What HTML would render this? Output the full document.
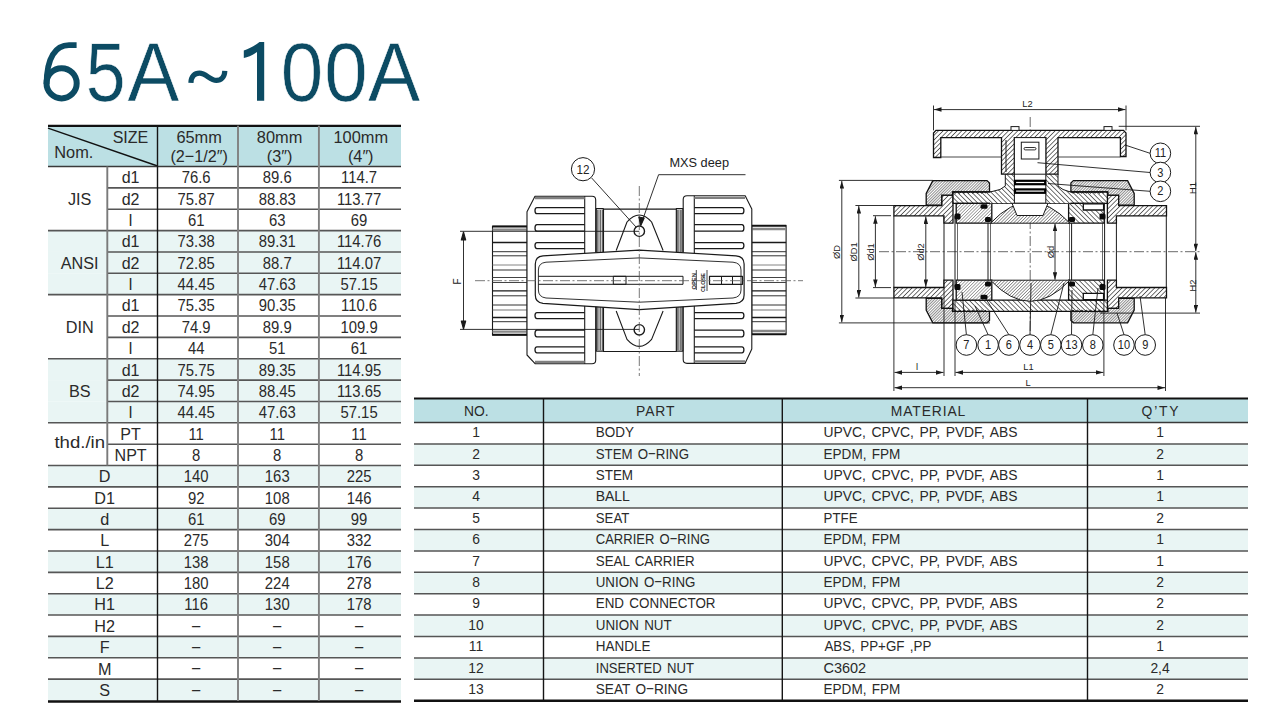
<!DOCTYPE html>
<html><head><meta charset="utf-8"><title>65A~100A</title>
<style>
html,body{margin:0;padding:0;background:#fff;width:1280px;height:720px;overflow:hidden}
svg{display:block;font-family:"Liberation Sans",sans-serif}
</style></head><body>
<svg width="1280" height="720" viewBox="0 0 1280 720">
<rect width="1280" height="720" fill="#fff"/>
<rect x="48" y="125.8" width="353" height="40.7" fill="#bce0e4"/>
<rect x="48" y="230.57999999999998" width="353" height="21.36" fill="#e9f5f4"/>
<rect x="48" y="251.94" width="353" height="21.36" fill="#e9f5f4"/>
<rect x="48" y="273.3" width="353" height="21.36" fill="#e9f5f4"/>
<rect x="48" y="358.74" width="353" height="21.36" fill="#e9f5f4"/>
<rect x="48" y="380.1" width="353" height="21.36" fill="#e9f5f4"/>
<rect x="48" y="401.46" width="353" height="21.36" fill="#e9f5f4"/>
<rect x="48" y="465.53999999999996" width="353" height="21.36" fill="#e9f5f4"/>
<rect x="48" y="508.26" width="353" height="21.36" fill="#e9f5f4"/>
<rect x="48" y="550.98" width="353" height="21.36" fill="#e9f5f4"/>
<rect x="48" y="593.7" width="353" height="21.36" fill="#e9f5f4"/>
<rect x="48" y="636.42" width="353" height="21.36" fill="#e9f5f4"/>
<rect x="48" y="679.14" width="353" height="21.36" fill="#e9f5f4"/>
<text transform="translate(85.86,100.8) scale(0.8632,1)" font-size="83.0" fill="#0c4b63" stroke="#fff" stroke-width="0.6">5</text>
<text transform="translate(127.47,100.8) scale(0.9346,1)" font-size="83.0" fill="#0c4b63" stroke="#fff" stroke-width="0.6">A</text>
<text transform="translate(280.85,100.8) scale(0.9202,1)" font-size="83.0" fill="#0c4b63" stroke="#fff" stroke-width="0.6">0</text>
<text transform="translate(324.29,100.8) scale(0.9401,1)" font-size="83.0" fill="#0c4b63" stroke="#fff" stroke-width="0.6">0</text>
<text transform="translate(368.06,100.8) scale(0.9421,1)" font-size="83.0" fill="#0c4b63" stroke="#fff" stroke-width="0.6">A</text>
<circle cx="61.6" cy="83.3" r="15.1" fill="none" stroke="#0c4b63" stroke-width="6"/>
<path d="M46.6,84 C46.6,57 56,45.1 69,45.1 L76.6,45.1" fill="none" stroke="#0c4b63" stroke-width="5.8"/>
<path d="M190.9,82.8 C191.2,76.5 194.5,73.2 199.5,73.2 C206,73.2 210,80.4 216.3,80.4 C221,80.4 224.6,77 224.8,70.8" fill="none" stroke="#0c4b63" stroke-width="5.2"/>
<path d="M264.2,42 L264.2,100.8 L257,100.8 L257,52 C252,55.5 248,57 243.8,58 L243.8,50.6 C250,48.5 255,45.5 259.5,42 Z" fill="#0c4b63"/>
<line x1="48" y1="128.2" x2="157.5" y2="166" stroke="#111" stroke-width="1.4"/>
<text transform="translate(148.3,143) scale(0.95,1)" text-anchor="end" font-size="16.9" fill="#2a2a2a" >SIZE</text>
<text transform="translate(54.2,158.3) scale(0.97,1)" text-anchor="start" font-size="16.9" fill="#2a2a2a" >Nom.</text>
<text transform="translate(199.15,143) scale(0.97,1)" text-anchor="middle" font-size="16.9" fill="#2a2a2a" >65mm</text>
<text transform="translate(199.15,161.7) scale(0.96,1)" text-anchor="middle" font-size="16.9" fill="#2a2a2a" >(2−1/2″)</text>
<text transform="translate(279.55,143) scale(0.97,1)" text-anchor="middle" font-size="16.9" fill="#2a2a2a" >80mm</text>
<text transform="translate(279.55,161.7) scale(0.96,1)" text-anchor="middle" font-size="16.9" fill="#2a2a2a" >(3″)</text>
<text transform="translate(360.75,143) scale(0.97,1)" text-anchor="middle" font-size="16.9" fill="#2a2a2a" >100mm</text>
<text transform="translate(360.75,161.7) scale(0.96,1)" text-anchor="middle" font-size="16.9" fill="#2a2a2a" >(4″)</text>
<text transform="translate(79.7,204.64) scale(0.96,1)" text-anchor="middle" font-size="16.9" fill="#2a2a2a" >JIS</text>
<text transform="translate(79.7,268.72) scale(0.96,1)" text-anchor="middle" font-size="16.9" fill="#2a2a2a" >ANSI</text>
<text transform="translate(79.7,332.8) scale(0.96,1)" text-anchor="middle" font-size="16.9" fill="#2a2a2a" >DIN</text>
<text transform="translate(79.7,396.88) scale(0.96,1)" text-anchor="middle" font-size="16.9" fill="#2a2a2a" >BS</text>
<text transform="translate(79.7,447.88) scale(1.1,1)" text-anchor="middle" font-size="16.9" fill="#2a2a2a" >thd./in</text>
<text transform="translate(104.7,482.32) scale(0.96,1)" text-anchor="middle" font-size="16.9" fill="#2a2a2a" >D</text>
<text transform="translate(104.7,503.68) scale(0.96,1)" text-anchor="middle" font-size="16.9" fill="#2a2a2a" >D1</text>
<text transform="translate(104.7,525.0400000000001) scale(0.96,1)" text-anchor="middle" font-size="16.9" fill="#2a2a2a" >d</text>
<text transform="translate(104.7,546.4) scale(0.96,1)" text-anchor="middle" font-size="16.9" fill="#2a2a2a" >L</text>
<text transform="translate(104.7,567.76) scale(0.96,1)" text-anchor="middle" font-size="16.9" fill="#2a2a2a" >L1</text>
<text transform="translate(104.7,589.12) scale(0.96,1)" text-anchor="middle" font-size="16.9" fill="#2a2a2a" >L2</text>
<text transform="translate(104.7,610.48) scale(0.96,1)" text-anchor="middle" font-size="16.9" fill="#2a2a2a" >H1</text>
<text transform="translate(104.7,631.84) scale(0.96,1)" text-anchor="middle" font-size="16.9" fill="#2a2a2a" >H2</text>
<text transform="translate(104.7,653.1999999999999) scale(0.96,1)" text-anchor="middle" font-size="16.9" fill="#2a2a2a" >F</text>
<text transform="translate(104.7,674.5600000000001) scale(0.96,1)" text-anchor="middle" font-size="16.9" fill="#2a2a2a" >M</text>
<text transform="translate(104.7,695.92) scale(0.96,1)" text-anchor="middle" font-size="16.9" fill="#2a2a2a" >S</text>
<text transform="translate(130.6,183.28) scale(0.95,1)" text-anchor="middle" font-size="16.9" fill="#2a2a2a" >d1</text>
<text transform="translate(196.15,183.28) scale(0.88,1)" text-anchor="middle" font-size="16.9" fill="#2a2a2a" >76.6</text>
<text transform="translate(277.25,183.28) scale(0.88,1)" text-anchor="middle" font-size="16.9" fill="#2a2a2a" >89.6</text>
<text transform="translate(359.05,183.28) scale(0.88,1)" text-anchor="middle" font-size="16.9" fill="#2a2a2a" >114.7</text>
<text transform="translate(130.6,204.64) scale(0.95,1)" text-anchor="middle" font-size="16.9" fill="#2a2a2a" >d2</text>
<text transform="translate(196.15,204.64) scale(0.88,1)" text-anchor="middle" font-size="16.9" fill="#2a2a2a" >75.87</text>
<text transform="translate(277.25,204.64) scale(0.88,1)" text-anchor="middle" font-size="16.9" fill="#2a2a2a" >88.83</text>
<text transform="translate(359.05,204.64) scale(0.88,1)" text-anchor="middle" font-size="16.9" fill="#2a2a2a" >113.77</text>
<text transform="translate(130.6,226.0) scale(0.95,1)" text-anchor="middle" font-size="16.9" fill="#2a2a2a" >l</text>
<text transform="translate(196.15,226.0) scale(0.88,1)" text-anchor="middle" font-size="16.9" fill="#2a2a2a" >61</text>
<text transform="translate(277.25,226.0) scale(0.88,1)" text-anchor="middle" font-size="16.9" fill="#2a2a2a" >63</text>
<text transform="translate(359.05,226.0) scale(0.88,1)" text-anchor="middle" font-size="16.9" fill="#2a2a2a" >69</text>
<text transform="translate(130.6,247.35999999999999) scale(0.95,1)" text-anchor="middle" font-size="16.9" fill="#2a2a2a" >d1</text>
<text transform="translate(196.15,247.35999999999999) scale(0.88,1)" text-anchor="middle" font-size="16.9" fill="#2a2a2a" >73.38</text>
<text transform="translate(277.25,247.35999999999999) scale(0.88,1)" text-anchor="middle" font-size="16.9" fill="#2a2a2a" >89.31</text>
<text transform="translate(359.05,247.35999999999999) scale(0.88,1)" text-anchor="middle" font-size="16.9" fill="#2a2a2a" >114.76</text>
<text transform="translate(130.6,268.72) scale(0.95,1)" text-anchor="middle" font-size="16.9" fill="#2a2a2a" >d2</text>
<text transform="translate(196.15,268.72) scale(0.88,1)" text-anchor="middle" font-size="16.9" fill="#2a2a2a" >72.85</text>
<text transform="translate(277.25,268.72) scale(0.88,1)" text-anchor="middle" font-size="16.9" fill="#2a2a2a" >88.7</text>
<text transform="translate(359.05,268.72) scale(0.88,1)" text-anchor="middle" font-size="16.9" fill="#2a2a2a" >114.07</text>
<text transform="translate(130.6,290.08000000000004) scale(0.95,1)" text-anchor="middle" font-size="16.9" fill="#2a2a2a" >l</text>
<text transform="translate(196.15,290.08000000000004) scale(0.88,1)" text-anchor="middle" font-size="16.9" fill="#2a2a2a" >44.45</text>
<text transform="translate(277.25,290.08000000000004) scale(0.88,1)" text-anchor="middle" font-size="16.9" fill="#2a2a2a" >47.63</text>
<text transform="translate(359.05,290.08000000000004) scale(0.88,1)" text-anchor="middle" font-size="16.9" fill="#2a2a2a" >57.15</text>
<text transform="translate(130.6,311.44000000000005) scale(0.95,1)" text-anchor="middle" font-size="16.9" fill="#2a2a2a" >d1</text>
<text transform="translate(196.15,311.44000000000005) scale(0.88,1)" text-anchor="middle" font-size="16.9" fill="#2a2a2a" >75.35</text>
<text transform="translate(277.25,311.44000000000005) scale(0.88,1)" text-anchor="middle" font-size="16.9" fill="#2a2a2a" >90.35</text>
<text transform="translate(359.05,311.44000000000005) scale(0.88,1)" text-anchor="middle" font-size="16.9" fill="#2a2a2a" >110.6</text>
<text transform="translate(130.6,332.8) scale(0.95,1)" text-anchor="middle" font-size="16.9" fill="#2a2a2a" >d2</text>
<text transform="translate(196.15,332.8) scale(0.88,1)" text-anchor="middle" font-size="16.9" fill="#2a2a2a" >74.9</text>
<text transform="translate(277.25,332.8) scale(0.88,1)" text-anchor="middle" font-size="16.9" fill="#2a2a2a" >89.9</text>
<text transform="translate(359.05,332.8) scale(0.88,1)" text-anchor="middle" font-size="16.9" fill="#2a2a2a" >109.9</text>
<text transform="translate(130.6,354.16) scale(0.95,1)" text-anchor="middle" font-size="16.9" fill="#2a2a2a" >l</text>
<text transform="translate(196.15,354.16) scale(0.88,1)" text-anchor="middle" font-size="16.9" fill="#2a2a2a" >44</text>
<text transform="translate(277.25,354.16) scale(0.88,1)" text-anchor="middle" font-size="16.9" fill="#2a2a2a" >51</text>
<text transform="translate(359.05,354.16) scale(0.88,1)" text-anchor="middle" font-size="16.9" fill="#2a2a2a" >61</text>
<text transform="translate(130.6,375.52) scale(0.95,1)" text-anchor="middle" font-size="16.9" fill="#2a2a2a" >d1</text>
<text transform="translate(196.15,375.52) scale(0.88,1)" text-anchor="middle" font-size="16.9" fill="#2a2a2a" >75.75</text>
<text transform="translate(277.25,375.52) scale(0.88,1)" text-anchor="middle" font-size="16.9" fill="#2a2a2a" >89.35</text>
<text transform="translate(359.05,375.52) scale(0.88,1)" text-anchor="middle" font-size="16.9" fill="#2a2a2a" >114.95</text>
<text transform="translate(130.6,396.88) scale(0.95,1)" text-anchor="middle" font-size="16.9" fill="#2a2a2a" >d2</text>
<text transform="translate(196.15,396.88) scale(0.88,1)" text-anchor="middle" font-size="16.9" fill="#2a2a2a" >74.95</text>
<text transform="translate(277.25,396.88) scale(0.88,1)" text-anchor="middle" font-size="16.9" fill="#2a2a2a" >88.45</text>
<text transform="translate(359.05,396.88) scale(0.88,1)" text-anchor="middle" font-size="16.9" fill="#2a2a2a" >113.65</text>
<text transform="translate(130.6,418.24) scale(0.95,1)" text-anchor="middle" font-size="16.9" fill="#2a2a2a" >l</text>
<text transform="translate(196.15,418.24) scale(0.88,1)" text-anchor="middle" font-size="16.9" fill="#2a2a2a" >44.45</text>
<text transform="translate(277.25,418.24) scale(0.88,1)" text-anchor="middle" font-size="16.9" fill="#2a2a2a" >47.63</text>
<text transform="translate(359.05,418.24) scale(0.88,1)" text-anchor="middle" font-size="16.9" fill="#2a2a2a" >57.15</text>
<text transform="translate(130.6,439.6) scale(0.95,1)" text-anchor="middle" font-size="16.9" fill="#2a2a2a" >PT</text>
<text transform="translate(196.15,439.6) scale(0.88,1)" text-anchor="middle" font-size="16.9" fill="#2a2a2a" >11</text>
<text transform="translate(277.25,439.6) scale(0.88,1)" text-anchor="middle" font-size="16.9" fill="#2a2a2a" >11</text>
<text transform="translate(359.05,439.6) scale(0.88,1)" text-anchor="middle" font-size="16.9" fill="#2a2a2a" >11</text>
<text transform="translate(130.6,460.96000000000004) scale(0.95,1)" text-anchor="middle" font-size="16.9" fill="#2a2a2a" >NPT</text>
<text transform="translate(196.15,460.96000000000004) scale(0.88,1)" text-anchor="middle" font-size="16.9" fill="#2a2a2a" >8</text>
<text transform="translate(277.25,460.96000000000004) scale(0.88,1)" text-anchor="middle" font-size="16.9" fill="#2a2a2a" >8</text>
<text transform="translate(359.05,460.96000000000004) scale(0.88,1)" text-anchor="middle" font-size="16.9" fill="#2a2a2a" >8</text>
<text transform="translate(196.15,482.32) scale(0.88,1)" text-anchor="middle" font-size="16.9" fill="#2a2a2a" >140</text>
<text transform="translate(277.25,482.32) scale(0.88,1)" text-anchor="middle" font-size="16.9" fill="#2a2a2a" >163</text>
<text transform="translate(359.05,482.32) scale(0.88,1)" text-anchor="middle" font-size="16.9" fill="#2a2a2a" >225</text>
<text transform="translate(196.15,503.68) scale(0.88,1)" text-anchor="middle" font-size="16.9" fill="#2a2a2a" >92</text>
<text transform="translate(277.25,503.68) scale(0.88,1)" text-anchor="middle" font-size="16.9" fill="#2a2a2a" >108</text>
<text transform="translate(359.05,503.68) scale(0.88,1)" text-anchor="middle" font-size="16.9" fill="#2a2a2a" >146</text>
<text transform="translate(196.15,525.0400000000001) scale(0.88,1)" text-anchor="middle" font-size="16.9" fill="#2a2a2a" >61</text>
<text transform="translate(277.25,525.0400000000001) scale(0.88,1)" text-anchor="middle" font-size="16.9" fill="#2a2a2a" >69</text>
<text transform="translate(359.05,525.0400000000001) scale(0.88,1)" text-anchor="middle" font-size="16.9" fill="#2a2a2a" >99</text>
<text transform="translate(196.15,546.4) scale(0.88,1)" text-anchor="middle" font-size="16.9" fill="#2a2a2a" >275</text>
<text transform="translate(277.25,546.4) scale(0.88,1)" text-anchor="middle" font-size="16.9" fill="#2a2a2a" >304</text>
<text transform="translate(359.05,546.4) scale(0.88,1)" text-anchor="middle" font-size="16.9" fill="#2a2a2a" >332</text>
<text transform="translate(196.15,567.76) scale(0.88,1)" text-anchor="middle" font-size="16.9" fill="#2a2a2a" >138</text>
<text transform="translate(277.25,567.76) scale(0.88,1)" text-anchor="middle" font-size="16.9" fill="#2a2a2a" >158</text>
<text transform="translate(359.05,567.76) scale(0.88,1)" text-anchor="middle" font-size="16.9" fill="#2a2a2a" >176</text>
<text transform="translate(196.15,589.12) scale(0.88,1)" text-anchor="middle" font-size="16.9" fill="#2a2a2a" >180</text>
<text transform="translate(277.25,589.12) scale(0.88,1)" text-anchor="middle" font-size="16.9" fill="#2a2a2a" >224</text>
<text transform="translate(359.05,589.12) scale(0.88,1)" text-anchor="middle" font-size="16.9" fill="#2a2a2a" >278</text>
<text transform="translate(196.15,610.48) scale(0.88,1)" text-anchor="middle" font-size="16.9" fill="#2a2a2a" >116</text>
<text transform="translate(277.25,610.48) scale(0.88,1)" text-anchor="middle" font-size="16.9" fill="#2a2a2a" >130</text>
<text transform="translate(359.05,610.48) scale(0.88,1)" text-anchor="middle" font-size="16.9" fill="#2a2a2a" >178</text>
<text transform="translate(196.15,630.5400000000001) scale(0.88,1)" text-anchor="middle" font-size="16.9" fill="#2a2a2a" >–</text>
<text transform="translate(277.25,630.5400000000001) scale(0.88,1)" text-anchor="middle" font-size="16.9" fill="#2a2a2a" >–</text>
<text transform="translate(359.05,630.5400000000001) scale(0.88,1)" text-anchor="middle" font-size="16.9" fill="#2a2a2a" >–</text>
<text transform="translate(196.15,651.9) scale(0.88,1)" text-anchor="middle" font-size="16.9" fill="#2a2a2a" >–</text>
<text transform="translate(277.25,651.9) scale(0.88,1)" text-anchor="middle" font-size="16.9" fill="#2a2a2a" >–</text>
<text transform="translate(359.05,651.9) scale(0.88,1)" text-anchor="middle" font-size="16.9" fill="#2a2a2a" >–</text>
<text transform="translate(196.15,673.2600000000001) scale(0.88,1)" text-anchor="middle" font-size="16.9" fill="#2a2a2a" >–</text>
<text transform="translate(277.25,673.2600000000001) scale(0.88,1)" text-anchor="middle" font-size="16.9" fill="#2a2a2a" >–</text>
<text transform="translate(359.05,673.2600000000001) scale(0.88,1)" text-anchor="middle" font-size="16.9" fill="#2a2a2a" >–</text>
<text transform="translate(196.15,694.62) scale(0.88,1)" text-anchor="middle" font-size="16.9" fill="#2a2a2a" >–</text>
<text transform="translate(277.25,694.62) scale(0.88,1)" text-anchor="middle" font-size="16.9" fill="#2a2a2a" >–</text>
<text transform="translate(359.05,694.62) scale(0.88,1)" text-anchor="middle" font-size="16.9" fill="#2a2a2a" >–</text>
<line x1="48" y1="125.8" x2="401" y2="125.8" stroke="#111" stroke-width="2.2"/>
<line x1="48" y1="166.5" x2="401" y2="166.5" stroke="#3a3a3a" stroke-width="1.3"/>
<line x1="107.3" y1="187.86" x2="401" y2="187.86" stroke="#565656" stroke-width="1.6"/>
<line x1="107.3" y1="209.22" x2="401" y2="209.22" stroke="#565656" stroke-width="1.6"/>
<line x1="48" y1="230.57999999999998" x2="401" y2="230.57999999999998" stroke="#565656" stroke-width="1.6"/>
<line x1="107.3" y1="251.94" x2="401" y2="251.94" stroke="#565656" stroke-width="1.6"/>
<line x1="107.3" y1="273.3" x2="401" y2="273.3" stroke="#565656" stroke-width="1.6"/>
<line x1="48" y1="294.65999999999997" x2="401" y2="294.65999999999997" stroke="#565656" stroke-width="1.6"/>
<line x1="107.3" y1="316.02" x2="401" y2="316.02" stroke="#565656" stroke-width="1.6"/>
<line x1="107.3" y1="337.38" x2="401" y2="337.38" stroke="#565656" stroke-width="1.6"/>
<line x1="48" y1="358.74" x2="401" y2="358.74" stroke="#565656" stroke-width="1.6"/>
<line x1="107.3" y1="380.1" x2="401" y2="380.1" stroke="#565656" stroke-width="1.6"/>
<line x1="107.3" y1="401.46" x2="401" y2="401.46" stroke="#565656" stroke-width="1.6"/>
<line x1="48" y1="422.82" x2="401" y2="422.82" stroke="#565656" stroke-width="1.6"/>
<line x1="107.3" y1="444.18" x2="401" y2="444.18" stroke="#565656" stroke-width="1.6"/>
<line x1="48" y1="465.53999999999996" x2="401" y2="465.53999999999996" stroke="#565656" stroke-width="1.6"/>
<line x1="48" y1="486.9" x2="401" y2="486.9" stroke="#565656" stroke-width="1.6"/>
<line x1="48" y1="508.26" x2="401" y2="508.26" stroke="#565656" stroke-width="1.6"/>
<line x1="48" y1="529.62" x2="401" y2="529.62" stroke="#565656" stroke-width="1.6"/>
<line x1="48" y1="550.98" x2="401" y2="550.98" stroke="#565656" stroke-width="1.6"/>
<line x1="48" y1="572.3399999999999" x2="401" y2="572.3399999999999" stroke="#565656" stroke-width="1.6"/>
<line x1="48" y1="593.7" x2="401" y2="593.7" stroke="#565656" stroke-width="1.6"/>
<line x1="48" y1="615.06" x2="401" y2="615.06" stroke="#565656" stroke-width="1.6"/>
<line x1="48" y1="636.42" x2="401" y2="636.42" stroke="#565656" stroke-width="1.6"/>
<line x1="48" y1="657.78" x2="401" y2="657.78" stroke="#565656" stroke-width="1.6"/>
<line x1="48" y1="679.14" x2="401" y2="679.14" stroke="#565656" stroke-width="1.6"/>
<line x1="48" y1="701.5" x2="401" y2="701.5" stroke="#111" stroke-width="2.4"/>
<line x1="107.3" y1="166.5" x2="107.3" y2="465.53999999999996" stroke="#7a7a7a" stroke-width="1.9"/>
<line x1="157.5" y1="125.8" x2="157.5" y2="701" stroke="#151515" stroke-width="1.4"/>
<line x1="238" y1="125.8" x2="238" y2="701" stroke="#808080" stroke-width="1.9"/>
<line x1="318.9" y1="125.8" x2="318.9" y2="701" stroke="#808080" stroke-width="1.9"/>
<rect x="414" y="398.5" width="834" height="24.0" fill="#bce0e4"/>
<rect x="414" y="443.9" width="834" height="21.400000000000002" fill="#e9f5f4"/>
<rect x="414" y="486.7" width="834" height="21.400000000000002" fill="#e9f5f4"/>
<rect x="414" y="529.5" width="834" height="21.400000000000002" fill="#e9f5f4"/>
<rect x="414" y="572.3" width="834" height="21.400000000000002" fill="#e9f5f4"/>
<rect x="414" y="615.1" width="834" height="21.400000000000002" fill="#e9f5f4"/>
<rect x="414" y="657.9000000000001" width="834" height="21.400000000000002" fill="#e9f5f4"/>
<text transform="translate(476.2,416.2) scale(0.9,1)" text-anchor="middle" font-size="15.4" fill="#2a2a2a" >NO.</text>
<text transform="translate(655.7,416.2) scale(0.9,1)" text-anchor="middle" font-size="15.4" fill="#2a2a2a" letter-spacing="1">PART</text>
<text transform="translate(928.5,416.2) scale(0.9,1)" text-anchor="middle" font-size="15.4" fill="#2a2a2a" letter-spacing="1">MATERIAL</text>
<text transform="translate(1161,416.2) scale(0.9,1)" text-anchor="middle" font-size="15.4" fill="#2a2a2a" letter-spacing="2">Q’TY</text>
<text transform="translate(476,437.09999999999997) scale(0.9,1)" text-anchor="middle" font-size="15.4" fill="#2a2a2a" >1</text>
<text transform="translate(595.7238095238096,437.09999999999997) scale(0.8762,1)" text-anchor="start" font-size="15.4" fill="#2a2a2a" >BODY</text>
<text transform="translate(823.5,437.09999999999997) scale(0.9,1)" text-anchor="start" font-size="15.4" fill="#2a2a2a" word-spacing="2.00">UPVC, CPVC, PP, PVDF, ABS</text>
<text transform="translate(1160,437.09999999999997) scale(0.9,1)" text-anchor="middle" font-size="15.4" fill="#2a2a2a" >1</text>
<text transform="translate(476,458.5) scale(0.9,1)" text-anchor="middle" font-size="15.4" fill="#2a2a2a" >2</text>
<text transform="translate(595.7379962192817,458.5) scale(0.862,1)" text-anchor="start" font-size="15.4" fill="#2a2a2a" word-spacing="1.80">STEM O−RING</text>
<text transform="translate(823.5191037735849,458.5) scale(0.8809,1)" text-anchor="start" font-size="15.4" fill="#2a2a2a" word-spacing="1.80">EPDM, FPM</text>
<text transform="translate(1160,458.5) scale(0.9,1)" text-anchor="middle" font-size="15.4" fill="#2a2a2a" >2</text>
<text transform="translate(476,479.9) scale(0.9,1)" text-anchor="middle" font-size="15.4" fill="#2a2a2a" >3</text>
<text transform="translate(595.7268292682927,479.9) scale(0.8732,1)" text-anchor="start" font-size="15.4" fill="#2a2a2a" >STEM</text>
<text transform="translate(823.5,479.9) scale(0.9,1)" text-anchor="start" font-size="15.4" fill="#2a2a2a" word-spacing="2.00">UPVC, CPVC, PP, PVDF, ABS</text>
<text transform="translate(1160,479.9) scale(0.9,1)" text-anchor="middle" font-size="15.4" fill="#2a2a2a" >1</text>
<text transform="translate(476,501.29999999999995) scale(0.9,1)" text-anchor="middle" font-size="15.4" fill="#2a2a2a" >4</text>
<text transform="translate(595.6916666666667,501.29999999999995) scale(0.9083,1)" text-anchor="start" font-size="15.4" fill="#2a2a2a" >BALL</text>
<text transform="translate(823.5,501.29999999999995) scale(0.9,1)" text-anchor="start" font-size="15.4" fill="#2a2a2a" word-spacing="2.00">UPVC, CPVC, PP, PVDF, ABS</text>
<text transform="translate(1160,501.29999999999995) scale(0.9,1)" text-anchor="middle" font-size="15.4" fill="#2a2a2a" >1</text>
<text transform="translate(476,522.6999999999999) scale(0.9,1)" text-anchor="middle" font-size="15.4" fill="#2a2a2a" >5</text>
<text transform="translate(595.7394736842106,522.6999999999999) scale(0.8605,1)" text-anchor="start" font-size="15.4" fill="#2a2a2a" >SEAT</text>
<text transform="translate(823.5368421052632,522.6999999999999) scale(0.8632,1)" text-anchor="start" font-size="15.4" fill="#2a2a2a" >PTFE</text>
<text transform="translate(1160,522.6999999999999) scale(0.9,1)" text-anchor="middle" font-size="15.4" fill="#2a2a2a" >2</text>
<text transform="translate(476,544.1) scale(0.9,1)" text-anchor="middle" font-size="15.4" fill="#2a2a2a" >6</text>
<text transform="translate(595.7528614457832,544.1) scale(0.8471,1)" text-anchor="start" font-size="15.4" fill="#2a2a2a" word-spacing="1.80">CARRIER O−RING</text>
<text transform="translate(823.5191037735849,544.1) scale(0.8809,1)" text-anchor="start" font-size="15.4" fill="#2a2a2a" word-spacing="1.80">EPDM, FPM</text>
<text transform="translate(1160,544.1) scale(0.9,1)" text-anchor="middle" font-size="15.4" fill="#2a2a2a" >1</text>
<text transform="translate(476,565.5) scale(0.9,1)" text-anchor="middle" font-size="15.4" fill="#2a2a2a" >7</text>
<text transform="translate(595.7323792486584,565.5) scale(0.8676,1)" text-anchor="start" font-size="15.4" fill="#2a2a2a" word-spacing="1.80">SEAL CARRIER</text>
<text transform="translate(823.5,565.5) scale(0.9,1)" text-anchor="start" font-size="15.4" fill="#2a2a2a" word-spacing="2.00">UPVC, CPVC, PP, PVDF, ABS</text>
<text transform="translate(1160,565.5) scale(0.9,1)" text-anchor="middle" font-size="15.4" fill="#2a2a2a" >1</text>
<text transform="translate(476,586.9) scale(0.9,1)" text-anchor="middle" font-size="15.4" fill="#2a2a2a" >8</text>
<text transform="translate(595.733865248227,586.9) scale(0.8661,1)" text-anchor="start" font-size="15.4" fill="#2a2a2a" word-spacing="1.80">UNION O−RING</text>
<text transform="translate(823.5191037735849,586.9) scale(0.8809,1)" text-anchor="start" font-size="15.4" fill="#2a2a2a" word-spacing="1.80">EPDM, FPM</text>
<text transform="translate(1160,586.9) scale(0.9,1)" text-anchor="middle" font-size="15.4" fill="#2a2a2a" >2</text>
<text transform="translate(476,608.3) scale(0.9,1)" text-anchor="middle" font-size="15.4" fill="#2a2a2a" >9</text>
<text transform="translate(595.7288659793815,608.3) scale(0.8711,1)" text-anchor="start" font-size="15.4" fill="#2a2a2a" word-spacing="1.80">END CONNECTOR</text>
<text transform="translate(823.5,608.3) scale(0.9,1)" text-anchor="start" font-size="15.4" fill="#2a2a2a" word-spacing="2.00">UPVC, CPVC, PP, PVDF, ABS</text>
<text transform="translate(1160,608.3) scale(0.9,1)" text-anchor="middle" font-size="15.4" fill="#2a2a2a" >2</text>
<text transform="translate(476,629.6999999999999) scale(0.9,1)" text-anchor="middle" font-size="15.4" fill="#2a2a2a" >10</text>
<text transform="translate(595.7293706293707,629.6999999999999) scale(0.8706,1)" text-anchor="start" font-size="15.4" fill="#2a2a2a" word-spacing="1.80">UNION NUT</text>
<text transform="translate(823.5,629.6999999999999) scale(0.9,1)" text-anchor="start" font-size="15.4" fill="#2a2a2a" word-spacing="2.00">UPVC, CPVC, PP, PVDF, ABS</text>
<text transform="translate(1160,629.6999999999999) scale(0.9,1)" text-anchor="middle" font-size="15.4" fill="#2a2a2a" >2</text>
<text transform="translate(476,651.1) scale(0.9,1)" text-anchor="middle" font-size="15.4" fill="#2a2a2a" >11</text>
<text transform="translate(595.7245901639344,651.1) scale(0.8754,1)" text-anchor="start" font-size="15.4" fill="#2a2a2a" >HANDLE</text>
<text transform="translate(824.4,651.1) scale(0.8703,1)" text-anchor="start" font-size="15.4" fill="#2a2a2a" word-spacing="1.80">ABS, PP+GF ,PP</text>
<text transform="translate(1160,651.1) scale(0.9,1)" text-anchor="middle" font-size="15.4" fill="#2a2a2a" >1</text>
<text transform="translate(476,672.5) scale(0.9,1)" text-anchor="middle" font-size="15.4" fill="#2a2a2a" >12</text>
<text transform="translate(595.7476274165202,672.5) scale(0.8524,1)" text-anchor="start" font-size="15.4" fill="#2a2a2a" word-spacing="1.80">INSERTED NUT</text>
<text transform="translate(823.4590909090908,672.5) scale(0.9409,1)" text-anchor="start" font-size="15.4" fill="#2a2a2a" >C3602</text>
<text transform="translate(1160,672.5) scale(0.9,1)" text-anchor="middle" font-size="15.4" fill="#2a2a2a" >2,4</text>
<text transform="translate(476,693.9) scale(0.9,1)" text-anchor="middle" font-size="15.4" fill="#2a2a2a" >13</text>
<text transform="translate(595.7149312377211,693.9) scale(0.8851,1)" text-anchor="start" font-size="15.4" fill="#2a2a2a" word-spacing="1.80">SEAT O−RING</text>
<text transform="translate(823.5191037735849,693.9) scale(0.8809,1)" text-anchor="start" font-size="15.4" fill="#2a2a2a" word-spacing="1.80">EPDM, FPM</text>
<text transform="translate(1160,693.9) scale(0.9,1)" text-anchor="middle" font-size="15.4" fill="#2a2a2a" >2</text>
<line x1="414" y1="398.5" x2="1248" y2="398.5" stroke="#111" stroke-width="2"/>
<line x1="414" y1="422.5" x2="1248" y2="422.5" stroke="#3a3a3a" stroke-width="1.3"/>
<line x1="414" y1="443.9" x2="1248" y2="443.9" stroke="#555" stroke-width="1.5"/>
<line x1="414" y1="465.3" x2="1248" y2="465.3" stroke="#555" stroke-width="1.5"/>
<line x1="414" y1="486.7" x2="1248" y2="486.7" stroke="#555" stroke-width="1.5"/>
<line x1="414" y1="508.1" x2="1248" y2="508.1" stroke="#555" stroke-width="1.5"/>
<line x1="414" y1="529.5" x2="1248" y2="529.5" stroke="#555" stroke-width="1.5"/>
<line x1="414" y1="550.9" x2="1248" y2="550.9" stroke="#555" stroke-width="1.5"/>
<line x1="414" y1="572.3" x2="1248" y2="572.3" stroke="#555" stroke-width="1.5"/>
<line x1="414" y1="593.7" x2="1248" y2="593.7" stroke="#555" stroke-width="1.5"/>
<line x1="414" y1="615.1" x2="1248" y2="615.1" stroke="#555" stroke-width="1.5"/>
<line x1="414" y1="636.5" x2="1248" y2="636.5" stroke="#555" stroke-width="1.5"/>
<line x1="414" y1="657.9000000000001" x2="1248" y2="657.9000000000001" stroke="#555" stroke-width="1.5"/>
<line x1="414" y1="679.3" x2="1248" y2="679.3" stroke="#555" stroke-width="1.5"/>
<line x1="414" y1="700.7" x2="1248" y2="700.7" stroke="#111" stroke-width="2.4"/>
<line x1="543.5" y1="398.5" x2="543.5" y2="700.7" stroke="#151515" stroke-width="1.4"/>
<line x1="782.3" y1="398.5" x2="782.3" y2="700.7" stroke="#151515" stroke-width="1.4"/>
<line x1="1087.5" y1="398.5" x2="1087.5" y2="700.7" stroke="#151515" stroke-width="1.4"/>
<g fill="none" stroke="#1a1a1a" stroke-width="1.1" stroke-linejoin="round">
<rect x="492.5" y="226" width="34.7" height="109.2" fill="#fff"/>
<line x1="492.5" y1="226.6" x2="527.2" y2="226.6" stroke-width="1.6" stroke="#111"/>
<line x1="492.5" y1="229.6" x2="527.2" y2="229.6" stroke-width="2.4" stroke="#888"/>
<line x1="492.5" y1="334.59999999999997" x2="527.2" y2="334.59999999999997" stroke-width="1.6" stroke="#111"/>
<line x1="492.5" y1="331.59999999999997" x2="527.2" y2="331.59999999999997" stroke-width="2.4" stroke="#888"/>
<line x1="492.5" y1="242.5" x2="527.2" y2="242.5" stroke-width="1.3" stroke="#1a1a1a"/>
<line x1="492.5" y1="251.7" x2="527.2" y2="251.7" stroke-width="1" stroke="#333"/>
<line x1="492.5" y1="255.8" x2="527.2" y2="255.8" stroke-width="1" stroke="#333"/>
<line x1="492.5" y1="265" x2="527.2" y2="265" stroke-width="0.9" stroke="#777"/>
<line x1="492.5" y1="270" x2="527.2" y2="270" stroke-width="1" stroke="#333"/>
<line x1="492.5" y1="277.5" x2="527.2" y2="277.5" stroke-width="1" stroke="#444"/>
<line x1="492.5" y1="282.5" x2="527.2" y2="282.5" stroke-width="1" stroke="#444"/>
<line x1="492.5" y1="290.8" x2="527.2" y2="290.8" stroke-width="1.3" stroke="#1a1a1a"/>
<line x1="492.5" y1="295.8" x2="527.2" y2="295.8" stroke-width="1" stroke="#333"/>
<line x1="492.5" y1="305" x2="527.2" y2="305" stroke-width="1" stroke="#333"/>
<line x1="492.5" y1="310" x2="527.2" y2="310" stroke-width="0.9" stroke="#666"/>
<line x1="492.5" y1="317.5" x2="527.2" y2="317.5" stroke-width="1.3" stroke="#1a1a1a"/>
<line x1="492.5" y1="321.7" x2="527.2" y2="321.7" stroke-width="1" stroke="#333"/>
<rect x="751.8" y="225.4" width="34.3" height="109.2" fill="#fff"/>
<line x1="751.8" y1="226.0" x2="786.1" y2="226.0" stroke-width="1.6" stroke="#111"/>
<line x1="751.8" y1="229.0" x2="786.1" y2="229.0" stroke-width="2.4" stroke="#888"/>
<line x1="751.8" y1="334.0" x2="786.1" y2="334.0" stroke-width="1.6" stroke="#111"/>
<line x1="751.8" y1="331.0" x2="786.1" y2="331.0" stroke-width="2.4" stroke="#888"/>
<line x1="751.8" y1="242.5" x2="786.1" y2="242.5" stroke-width="1.3" stroke="#1a1a1a"/>
<line x1="751.8" y1="251.7" x2="786.1" y2="251.7" stroke-width="1" stroke="#333"/>
<line x1="751.8" y1="255.8" x2="786.1" y2="255.8" stroke-width="1" stroke="#333"/>
<line x1="751.8" y1="265" x2="786.1" y2="265" stroke-width="0.9" stroke="#777"/>
<line x1="751.8" y1="270" x2="786.1" y2="270" stroke-width="1" stroke="#333"/>
<line x1="751.8" y1="277.5" x2="786.1" y2="277.5" stroke-width="1" stroke="#444"/>
<line x1="751.8" y1="282.5" x2="786.1" y2="282.5" stroke-width="1" stroke="#444"/>
<line x1="751.8" y1="290.8" x2="786.1" y2="290.8" stroke-width="1.3" stroke="#1a1a1a"/>
<line x1="751.8" y1="295.8" x2="786.1" y2="295.8" stroke-width="1" stroke="#333"/>
<line x1="751.8" y1="305" x2="786.1" y2="305" stroke-width="1" stroke="#333"/>
<line x1="751.8" y1="310" x2="786.1" y2="310" stroke-width="0.9" stroke="#666"/>
<line x1="751.8" y1="317.5" x2="786.1" y2="317.5" stroke-width="1.3" stroke="#1a1a1a"/>
<line x1="751.8" y1="321.7" x2="786.1" y2="321.7" stroke-width="1" stroke="#333"/>
<path d="M535,196.3 L592,196.3 Q595.7,196.3 595.7,200 L595.7,360 Q595.7,363.8 592,363.8 L535.3,363.8 L527,355 L527,211.7 Z" fill="#fff"/>
<line x1="584.7" y1="196.3" x2="584.7" y2="363.8"/>
<line x1="535" y1="198.2" x2="584.7" y2="198.2" stroke-width="2.2" stroke="#808080"/>
<line x1="535" y1="361.9" x2="584.7" y2="361.9" stroke-width="2.2" stroke="#808080"/>
<path d="M687,195.8 L745.2,195.8 L751.8,209 L751.8,349 L745,363.4 L687,363.4 Q683.2,363.4 683.2,359.6 L683.2,199.6 Q683.2,195.8 687,195.8 Z" fill="#fff"/>
<line x1="694.3" y1="195.8" x2="694.3" y2="363.4"/>
<line x1="694.3" y1="197.8" x2="745" y2="197.8" stroke-width="2.2" stroke="#808080"/>
<line x1="694.3" y1="361.4" x2="745" y2="361.4" stroke-width="2.2" stroke="#808080"/>
<path d="M584.7,207.7 L537,207.7 Q535,207.7 535,210.64999999999998 Q535,213.6 537,213.6 L584.7,213.6" stroke-width="1.3"/>
<path d="M584.7,224.6 L537,224.6 Q535,224.6 535,227.89999999999998 Q535,231.2 537,231.2 L584.7,231.2" stroke-width="1.3"/>
<path d="M584.7,242.6 L537,242.6 Q535,242.6 535,245.6 Q535,248.6 537,248.6 L584.7,248.6" stroke-width="1.3"/>
<path d="M584.7,312.6 L537,312.6 Q535,312.6 535,315.6 Q535,318.6 537,318.6 L584.7,318.6" stroke-width="1.3"/>
<path d="M584.7,330.2 L537,330.2 Q535,330.2 535,333.5 Q535,336.8 537,336.8 L584.7,336.8" stroke-width="1.3"/>
<path d="M584.7,346.8 L537,346.8 Q535,346.8 535,349.8 Q535,352.8 537,352.8 L584.7,352.8" stroke-width="1.3"/>
<path d="M694.3,207.7 L741.9,207.7 Q743.9,207.7 743.9,210.64999999999998 Q743.9,213.6 741.9,213.6 L694.3,213.6" stroke-width="1.3"/>
<path d="M694.3,224.6 L741.9,224.6 Q743.9,224.6 743.9,227.89999999999998 Q743.9,231.2 741.9,231.2 L694.3,231.2" stroke-width="1.3"/>
<path d="M694.3,242.6 L741.9,242.6 Q743.9,242.6 743.9,245.6 Q743.9,248.6 741.9,248.6 L694.3,248.6" stroke-width="1.3"/>
<path d="M694.3,312.6 L741.9,312.6 Q743.9,312.6 743.9,315.6 Q743.9,318.6 741.9,318.6 L694.3,318.6" stroke-width="1.3"/>
<path d="M694.3,330.2 L741.9,330.2 Q743.9,330.2 743.9,333.5 Q743.9,336.8 741.9,336.8 L694.3,336.8" stroke-width="1.3"/>
<path d="M694.3,346.8 L741.9,346.8 Q743.9,346.8 743.9,349.8 Q743.9,352.8 741.9,352.8 L694.3,352.8" stroke-width="1.3"/>
<rect x="596.3" y="208.6" width="7.0" height="142.5" fill="#fff"/>
<line x1="597.3" y1="210" x2="597.3" y2="350" stroke-width="0.9" stroke="#444"/>
<line x1="598.9666666666666" y1="210" x2="598.9666666666666" y2="350" stroke-width="0.9" stroke="#444"/>
<line x1="600.6333333333333" y1="210" x2="600.6333333333333" y2="350" stroke-width="0.9" stroke="#444"/>
<line x1="602.3" y1="210" x2="602.3" y2="350" stroke-width="0.9" stroke="#444"/>
<rect x="676.3" y="208.6" width="6.5" height="142.5" fill="#fff"/>
<line x1="677.3" y1="210" x2="677.3" y2="350" stroke-width="0.9" stroke="#444"/>
<line x1="678.8" y1="210" x2="678.8" y2="350" stroke-width="0.9" stroke="#444"/>
<line x1="680.3" y1="210" x2="680.3" y2="350" stroke-width="0.9" stroke="#444"/>
<line x1="681.8" y1="210" x2="681.8" y2="350" stroke-width="0.9" stroke="#444"/>
<rect x="603.5" y="209.1" width="72.8" height="142.4" fill="#fff"/>
<path d="M616.2,250.5 L627,222 Q639.3,208 651.6,222 L663.1,250.5"/>
<path d="M616.2,311 L627,339.4 Q639.3,353.4 651.6,339.4 L663.1,311"/>
<circle cx="639.3" cy="231.2" r="5.2" stroke-width="1.4"/>
<circle cx="639.3" cy="329.8" r="5.2" stroke-width="1.4"/>
<path d="M543,255.8 L639.3,250.1 L736,255.8 Q744.1,256.5 744.1,264 L744.1,295 Q744.1,302.5 736,303.3 L639.3,309.6 L543,303.3 Q535.3,302.5 535.3,295 L535.3,264 Q535.3,256.5 543,255.8 Z" fill="#fff" stroke-width="1.2"/>
<path d="M546,262.2 L639.3,257.9 L733,262.2 Q741,263 741,270 L741,290 Q741,297 733,298 L639.3,302.2 L546,298 Q538.4,297 538.4,290 L538.4,270 Q538.4,263 546,262.2 Z" stroke-width="0.9"/>
<line x1="538.4" y1="276.3" x2="683" y2="276.3" stroke-width="1"/>
<line x1="538.4" y1="284.3" x2="683" y2="284.3" stroke-width="1"/>
<line x1="683" y1="276.3" x2="683" y2="284.3" stroke-width="1"/>
<rect x="613.3" y="276.3" width="12.7" height="8" stroke-width="1"/>
<rect x="709.5" y="276.3" width="33" height="8" stroke-width="1.2"/>
<line x1="721.5" y1="276.3" x2="721.5" y2="284.3" stroke-width="1"/>
<line x1="732.5" y1="276.3" x2="732.5" y2="284.3" stroke-width="1"/>
<text transform="translate(695.8,289.5) rotate(-90)" font-size="6" font-weight="bold" fill="#222" stroke="none" textLength="16.3" lengthAdjust="spacingAndGlyphs">OPEN</text>
<line x1="696.3" y1="270" x2="696.3" y2="290" stroke-width="0.8"/>
<text transform="translate(704.9,292) rotate(-90)" font-size="6" font-weight="bold" fill="#222" stroke="none" textLength="19" lengthAdjust="spacingAndGlyphs">CLOSE</text>
<line x1="707" y1="270" x2="707" y2="291" stroke-width="0.8"/>
<line x1="475" y1="280.7" x2="803" y2="280.7" stroke-width="0.8" stroke="#555" stroke-dasharray="10,2.5,2,2.5"/>
<line x1="639.3" y1="186" x2="639.3" y2="376" stroke-width="0.8" stroke="#555" stroke-dasharray="10,2.5,2,2.5"/>
<line x1="460" y1="231.3" x2="639.3" y2="231.3" stroke-width="0.9"/>
<line x1="460" y1="329.4" x2="639.3" y2="329.4" stroke-width="0.9"/>
<line x1="463.5" y1="233" x2="463.5" y2="328" stroke-width="0.9"/>
<path d="M461.3,240 L463.5,232 L465.7,240 Z" fill="#1a1a1a"/>
<path d="M461.3,321 L463.5,329 L465.7,321 Z" fill="#1a1a1a"/>
<text transform="translate(460.5,284.5) rotate(-90)" font-size="10" fill="#222" stroke="none">F</text>
<circle cx="583" cy="169.2" r="11.6" fill="#fff" stroke-width="1"/>
<text x="583" y="173.8" font-size="13" text-anchor="middle" fill="#222" stroke="none" transform="translate(583,0) scale(0.9,1) translate(-583,0)">12</text>
<line x1="591.5" y1="177.8" x2="636" y2="227" stroke-width="0.9"/>
<text x="669.4" y="167.1" font-size="13.6" fill="#222" stroke="none" textLength="59.6" lengthAdjust="spacingAndGlyphs">MXS deep</text>
<line x1="658.6" y1="174.7" x2="745.5" y2="174.7" stroke-width="0.9"/>
<line x1="658.6" y1="174.7" x2="641.5" y2="223" stroke-width="0.9"/>
<path d="M638.8,217 L640.8,225.5 L644.2,218 Z" fill="#1a1a1a"/>
</g><defs><pattern id="hA" width="3.3" height="3.3" patternUnits="userSpaceOnUse" patternTransform="rotate(45)"><rect width="3.3" height="3.3" fill="#fff"/><line x1="0" y1="0" x2="0" y2="3.3" stroke="#151515" stroke-width="1.2"/></pattern><pattern id="hB" width="2.0" height="2.0" patternUnits="userSpaceOnUse" patternTransform="rotate(45)"><rect width="2" height="2" fill="#fff"/><line x1="0" y1="0" x2="0" y2="2" stroke="#222" stroke-width="1.0"/></pattern><pattern id="hC" width="2.3" height="2.3" patternUnits="userSpaceOnUse" patternTransform="rotate(45)"><rect width="2.3" height="2.3" fill="#fff"/><line x1="0" y1="0" x2="0" y2="2.3" stroke="#222" stroke-width="0.9"/></pattern><pattern id="hD" width="2.3" height="2.3" patternUnits="userSpaceOnUse" patternTransform="rotate(45)"><rect width="2.3" height="2.3" fill="#fff"/><line x1="0" y1="0" x2="0" y2="2.3" stroke="#444" stroke-width="0.9"/></pattern><pattern id="hE" width="3.4" height="3.4" patternUnits="userSpaceOnUse" patternTransform="rotate(-45)"><rect width="3.4" height="3.4" fill="#fff"/><line x1="0" y1="0" x2="0" y2="3.4" stroke="#151515" stroke-width="1.2"/></pattern><marker id="ar" viewBox="0 0 10 6" refX="10" refY="3" markerWidth="8" markerHeight="4.5" orient="auto-start-reverse" markerUnits="userSpaceOnUse"><path d="M0,0 L10,3 L0,6 Z" fill="#1a1a1a"/></marker></defs>
<line x1="879" y1="251.7" x2="1200" y2="251.7" stroke="#444" stroke-width="0.8" stroke-dasharray="10,2.5,2,2.5"/>
<line x1="1030.2" y1="117" x2="1030.2" y2="334" stroke="#444" stroke-width="0.8" stroke-dasharray="10,2.5,2,2.5"/>
<line x1="893.9" y1="215.9" x2="893.9" y2="287.5" stroke="#1a1a1a" stroke-width="1"/>
<line x1="944" y1="215.9" x2="944" y2="287.5" stroke="#1a1a1a" stroke-width="1"/>
<line x1="955" y1="215.9" x2="955" y2="287.5" stroke="#1a1a1a" stroke-width="1"/>
<line x1="988" y1="215.9" x2="988" y2="287.5" stroke="#1a1a1a" stroke-width="1"/>
<line x1="1071.6" y1="215.9" x2="1071.6" y2="287.5" stroke="#1a1a1a" stroke-width="1"/>
<line x1="1104.6" y1="215.9" x2="1104.6" y2="287.5" stroke="#1a1a1a" stroke-width="1"/>
<line x1="1116.4" y1="215.9" x2="1116.4" y2="287.5" stroke="#1a1a1a" stroke-width="1"/>
<line x1="1166.3" y1="215.9" x2="1166.3" y2="287.5" stroke="#1a1a1a" stroke-width="1"/>
<line x1="957.5" y1="223" x2="957.5" y2="280.4" stroke="#444" stroke-width="0.8"/>
<line x1="990.5" y1="223" x2="990.5" y2="280.4" stroke="#444" stroke-width="0.8"/>
<line x1="1069.5" y1="223" x2="1069.5" y2="280.4" stroke="#444" stroke-width="0.8"/>
<line x1="1102.5" y1="223" x2="1102.5" y2="280.4" stroke="#444" stroke-width="0.8"/>
<path d="M893.9,205.6 L941.7,205.6 L941.7,195.1 L953.0,195.1 L953.0,223.2 L944.0,223.2 L944.0,215.9 L893.9,215.9 Z" fill="url(#hA)" stroke="#111" stroke-width="1.3"/>
<path d="M1166.5,205.6 L1118.7,205.6 L1118.7,195.1 L1107.4,195.1 L1107.4,223.2 L1116.4,223.2 L1116.4,215.9 L1166.5,215.9 Z" fill="url(#hA)" stroke="#111" stroke-width="1.3"/>
<path d="M893.9,297.8 L941.7,297.8 L941.7,308.3 L953.0,308.3 L953.0,280.2 L944.0,280.2 L944.0,287.5 L893.9,287.5 Z" fill="url(#hA)" stroke="#111" stroke-width="1.3"/>
<path d="M1166.5,297.8 L1118.7,297.8 L1118.7,308.3 L1107.4,308.3 L1107.4,280.2 L1116.4,280.2 L1116.4,287.5 L1166.5,287.5 Z" fill="url(#hA)" stroke="#111" stroke-width="1.3"/>
<path d="M932.8,180.6 L987.0,180.6 L989.5,183.0 L989.5,192.0 L952.5,192.0 L952.5,195.1 L941.7,195.1 L941.7,205.1 L926.2,205.1 L926.2,193.4 Z" fill="url(#hB)" stroke="#111" stroke-width="1.3"/>
<path d="M1127.6,180.6 L1073.4,180.6 L1070.9,183.0 L1070.9,192.0 L1107.9,192.0 L1107.9,195.1 L1118.7,195.1 L1118.7,205.1 L1134.2,205.1 L1134.2,193.4 Z" fill="url(#hB)" stroke="#111" stroke-width="1.3"/>
<path d="M932.8,322.8 L987.0,322.8 L989.5,320.4 L989.5,311.4 L952.5,311.4 L952.5,308.3 L941.7,308.3 L941.7,298.3 L926.2,298.3 L926.2,310.0 Z" fill="url(#hB)" stroke="#111" stroke-width="1.3"/>
<path d="M1127.6,322.8 L1073.4,322.8 L1070.9,320.4 L1070.9,311.4 L1107.9,311.4 L1107.9,308.3 L1118.7,308.3 L1118.7,298.3 L1134.2,298.3 L1134.2,310.0 Z" fill="url(#hB)" stroke="#111" stroke-width="1.3"/>
<path d="M953.0,192.0 L1107.4,192.0 L1107.4,203.3 L953.0,203.3 Z" fill="url(#hE)" stroke="#111" stroke-width="1.3"/>
<path d="M953.0,311.4 L1107.4,311.4 L1107.4,300.1 L953.0,300.1 Z" fill="url(#hE)" stroke="#111" stroke-width="1.3"/>
<path d="M1068.6,203.3 L1104.2,203.3 L1104.2,223.2 L1068.6,223.2 Z" fill="url(#hE)" stroke="#111" stroke-width="1.3"/>
<path d="M1068.6,300.1 L1104.2,300.1 L1104.2,280.2 L1068.6,280.2 Z" fill="url(#hE)" stroke="#111" stroke-width="1.3"/>
<path d="M1083.3,203.8 L1103.6,203.8 L1103.6,210.0 L1083.3,210.0 Z" fill="#fff" stroke="#111" stroke-width="1.3"/>
<path d="M1083.3,299.6 L1103.6,299.6 L1103.6,293.4 L1083.3,293.4 Z" fill="#fff" stroke="#111" stroke-width="1.3"/>
<path d="M956.2,203.3 L991.8,203.3 L991.8,223.2 L956.2,223.2 Z" fill="url(#hD)" stroke="#111" stroke-width="1.3"/>
<path d="M956.2,300.1 L991.8,300.1 L991.8,280.2 L956.2,280.2 Z" fill="url(#hD)" stroke="#111" stroke-width="1.3"/>
<path d="M990.5,223.2 Q1030.2,181 1069.9,223.2 Z" fill="url(#hC)" stroke="#1a1a1a" stroke-width="1"/>
<path d="M990.5,280.2 Q1030.2,322.4 1069.9,280.2 Z" fill="url(#hC)" stroke="#1a1a1a" stroke-width="1"/>
<path d="M990.0,192.0 L1000.0,189.5 L1005.3,186.0 L1005.3,158.2 L1014.4,158.2 L1014.4,203.3 L990.0,203.3 Z" fill="url(#hE)" stroke="none"/>
<path d="M1070.4,192.0 L1063.0,189.5 L1058.0,186.0 L1058.0,158.2 L1045.8,158.2 L1045.8,203.3 L1070.4,203.3 Z" fill="url(#hE)" stroke="none"/>
<path d="M990,192 L1000,189.5 L1005.3,186 L1005.3,174 M1058,174 L1058,186 L1063,189.5 L1070.4,192" fill="none" stroke="#1a1a1a" stroke-width="1"/>
<path d="M933.5,133.0 L936.0,130.4 L1123.5,130.4 L1126.0,133.0 L1126.0,156.5 L1120.4,156.5 L1120.4,137.7 L1058.0,137.7 L1058.0,174.2 L1045.8,174.2 L1045.8,137.6 L1014.4,137.6 L1014.4,174.2 L1001.5,174.2 L1001.5,137.7 L940.8,137.7 L940.8,157.5 L933.5,157.5 Z" fill="url(#hA)" stroke="#111" stroke-width="1.3"/>
<rect x="1011" y="126.6" width="8" height="3.8" fill="#fff" stroke="#1a1a1a" stroke-width="1"/>
<rect x="1104" y="126.6" width="8" height="3.8" fill="#fff" stroke="#1a1a1a" stroke-width="1"/>
<line x1="1006" y1="140" x2="1006" y2="172" stroke="#1a1a1a" stroke-width="1"/>
<rect x="1014.4" y="137.6" width="31.4" height="65.7" fill="#fff" stroke="#1a1a1a" stroke-width="1"/>
<rect x="1021.3" y="142.2" width="17.6" height="16.8" fill="#fff" stroke="#1a1a1a" stroke-width="1"/>
<rect x="1024" y="147.5" width="12" height="2.4" rx="1.2" fill="none" stroke="#1a1a1a" stroke-width="0.9"/>
<line x1="1014.4" y1="174.2" x2="1045.8" y2="174.2" stroke="#1a1a1a" stroke-width="1"/>
<rect x="1015" y="180.8" width="30.2" height="3.4" fill="#fff" stroke="#000" stroke-width="2.2"/>
<rect x="1015" y="189.4" width="30.2" height="3.4" fill="#fff" stroke="#000" stroke-width="2.2"/>
<line x1="940.8" y1="157" x2="1001.5" y2="157" stroke="#333" stroke-width="0.9"/>
<line x1="1058" y1="157" x2="1120.4" y2="157" stroke="#333" stroke-width="0.9"/>
<path d="M1012,203.3 L1048,203.3 L1043,215.5 L1017,215.5 Z" fill="#fff" stroke="#1a1a1a" stroke-width="1"/>
<path d="M953.0,191.4 955.2,193.2 957.4,191.4 959.6,193.2 961.8,191.4 964.0,193.2 966.2,191.4 968.4,193.2 970.6,191.4 972.8,193.2 975.0,191.4 977.2,193.2 979.4,191.4 981.6,193.2 983.8,191.4 986.0,193.2" fill="none" stroke="#111" stroke-width="1"/>
<path d="M953.0,312.0 955.2,310.2 957.4,312.0 959.6,310.2 961.8,312.0 964.0,310.2 966.2,312.0 968.4,310.2 970.6,312.0 972.8,310.2 975.0,312.0 977.2,310.2 979.4,312.0 981.6,310.2 983.8,312.0 986.0,310.2" fill="none" stroke="#111" stroke-width="1"/>
<path d="M1070.8,191.4 1073.0,193.2 1075.2,191.4 1077.4,193.2 1079.6,191.4 1081.8,193.2 1084.0,191.4 1086.2,193.2 1088.4,191.4 1090.6,193.2 1092.8,191.4 1095.0,193.2 1097.2,191.4 1099.4,193.2 1101.6,191.4 1103.8,193.2" fill="none" stroke="#111" stroke-width="1"/>
<path d="M1070.8,312.0 1073.0,310.2 1075.2,312.0 1077.4,310.2 1079.6,312.0 1081.8,310.2 1084.0,312.0 1086.2,310.2 1088.4,312.0 1090.6,310.2 1092.8,312.0 1095.0,310.2 1097.2,312.0 1099.4,310.2 1101.6,312.0 1103.8,310.2" fill="none" stroke="#111" stroke-width="1"/>
<rect x="954.5" y="213.5" width="6" height="6" rx="1.5" fill="#0a0a0a"/>
<rect x="954.5" y="283.9" width="6" height="6" rx="1.5" fill="#0a0a0a"/>
<rect x="980.5" y="204.25" width="7" height="4.5" rx="1.5" fill="#0a0a0a"/>
<rect x="980.5" y="294.65" width="7" height="4.5" rx="1.5" fill="#0a0a0a"/>
<rect x="985.0" y="217.0" width="6" height="5" rx="1.5" fill="#0a0a0a"/>
<rect x="985.0" y="281.4" width="6" height="5" rx="1.5" fill="#0a0a0a"/>
<rect x="1069.0" y="217.0" width="6" height="5" rx="1.5" fill="#0a0a0a"/>
<rect x="1069.0" y="281.4" width="6" height="5" rx="1.5" fill="#0a0a0a"/>
<rect x="1099.5" y="213.5" width="6" height="6" rx="1.5" fill="#0a0a0a"/>
<rect x="1099.5" y="283.9" width="6" height="6" rx="1.5" fill="#0a0a0a"/>
<line x1="933.5" y1="105.5" x2="933.5" y2="130.4" stroke="#1a1a1a" stroke-width="0.9" fill="none"/>
<line x1="1126" y1="105.5" x2="1126" y2="130.4" stroke="#1a1a1a" stroke-width="0.9" fill="none"/>
<line x1="934" y1="109.6" x2="1125.5" y2="109.6" stroke="#1a1a1a" stroke-width="0.9" fill="none" marker-start="url(#ar)" marker-end="url(#ar)"/>
<line x1="1118.7" y1="126.3" x2="1200" y2="126.3" stroke="#1a1a1a" stroke-width="0.9" fill="none"/>
<line x1="1100" y1="313.1" x2="1200" y2="313.1" stroke="#1a1a1a" stroke-width="0.9" fill="none"/>
<line x1="1195.8" y1="126.8" x2="1195.8" y2="251.2" stroke="#1a1a1a" stroke-width="0.9" fill="none" marker-start="url(#ar)" marker-end="url(#ar)"/>
<line x1="1195.8" y1="252.2" x2="1195.8" y2="312.6" stroke="#1a1a1a" stroke-width="0.9" fill="none" marker-start="url(#ar)" marker-end="url(#ar)"/>
<line x1="838.9" y1="180.4" x2="932.8" y2="180.4" stroke="#1a1a1a" stroke-width="0.9" fill="none"/>
<line x1="838.9" y1="322.9" x2="990" y2="322.9" stroke="#1a1a1a" stroke-width="0.9" fill="none"/>
<line x1="841.8" y1="181" x2="841.8" y2="322.3" stroke="#1a1a1a" stroke-width="0.9" fill="none" marker-start="url(#ar)" marker-end="url(#ar)"/>
<line x1="855.4" y1="205.5" x2="893.9" y2="205.5" stroke="#1a1a1a" stroke-width="0.9" fill="none"/>
<line x1="855.4" y1="298" x2="893.9" y2="298" stroke="#1a1a1a" stroke-width="0.9" fill="none"/>
<line x1="858.8" y1="206" x2="858.8" y2="297.5" stroke="#1a1a1a" stroke-width="0.9" fill="none" marker-start="url(#ar)" marker-end="url(#ar)"/>
<line x1="873" y1="215.7" x2="891" y2="215.7" stroke="#1a1a1a" stroke-width="0.9" fill="none"/>
<line x1="873" y1="287.6" x2="891" y2="287.6" stroke="#1a1a1a" stroke-width="0.9" fill="none"/>
<line x1="875.4" y1="216.2" x2="875.4" y2="287.1" stroke="#1a1a1a" stroke-width="0.9" fill="none" marker-start="url(#ar)" marker-end="url(#ar)"/>
<line x1="925.8" y1="216.4" x2="925.8" y2="287" stroke="#1a1a1a" stroke-width="0.9" fill="none" marker-start="url(#ar)" marker-end="url(#ar)"/>
<line x1="1055" y1="223.7" x2="1055" y2="279.7" stroke="#1a1a1a" stroke-width="0.9" fill="none" marker-start="url(#ar)" marker-end="url(#ar)"/>
<line x1="944" y1="287.5" x2="944" y2="376" stroke="#1a1a1a" stroke-width="0.9" fill="none"/>
<line x1="955" y1="300" x2="955" y2="376" stroke="#1a1a1a" stroke-width="0.9" fill="none"/>
<line x1="893.9" y1="297.8" x2="893.9" y2="391" stroke="#1a1a1a" stroke-width="0.9" fill="none"/>
<line x1="1103.9" y1="300" x2="1103.9" y2="376" stroke="#1a1a1a" stroke-width="0.9" fill="none"/>
<line x1="1165.5" y1="297.8" x2="1165.5" y2="391" stroke="#1a1a1a" stroke-width="0.9" fill="none"/>
<line x1="894.5" y1="372.4" x2="943.5" y2="372.4" stroke="#1a1a1a" stroke-width="0.9" fill="none" marker-start="url(#ar)" marker-end="url(#ar)"/>
<line x1="955.5" y1="372.4" x2="1103.4" y2="372.4" stroke="#1a1a1a" stroke-width="0.9" fill="none" marker-start="url(#ar)" marker-end="url(#ar)"/>
<line x1="894.5" y1="387.7" x2="1165" y2="387.7" stroke="#1a1a1a" stroke-width="0.9" fill="none" marker-start="url(#ar)" marker-end="url(#ar)"/>
<text x="1027.5" y="107.4" fill="#222" font-size="9.3" text-anchor="middle">L2</text>
<text transform="translate(1196,188) rotate(-90)" fill="#222" font-size="9.3" text-anchor="middle">H1</text>
<text transform="translate(1196,285.5) rotate(-90)" fill="#222" font-size="9.3" text-anchor="middle">H2</text>
<text transform="translate(840,252) rotate(-90)" fill="#222" font-size="9.3" text-anchor="middle">ØD</text>
<text transform="translate(857,252) rotate(-90)" fill="#222" font-size="9.3" text-anchor="middle">ØD1</text>
<text transform="translate(874,252) rotate(-90)" fill="#222" font-size="9.3" text-anchor="middle">Ød1</text>
<text transform="translate(924,252) rotate(-90)" fill="#222" font-size="9.3" text-anchor="middle">Ød2</text>
<text transform="translate(1054,252) rotate(-90)" fill="#222" font-size="9.3" text-anchor="middle">Ød</text>
<text x="917" y="370" fill="#222" font-size="9.3" text-anchor="middle">l</text>
<text x="1028.5" y="370" fill="#222" font-size="9.3" text-anchor="middle">L1</text>
<text x="1028" y="385.5" fill="#222" font-size="9.3" text-anchor="middle">L</text>
<line x1="966.4" y1="334.7" x2="962" y2="292" stroke="#1a1a1a" stroke-width="0.9" fill="none"/>
<line x1="988.1" y1="334.7" x2="975" y2="306" stroke="#1a1a1a" stroke-width="0.9" fill="none"/>
<line x1="1008.9" y1="334.7" x2="986" y2="299" stroke="#1a1a1a" stroke-width="0.9" fill="none"/>
<line x1="1030.0" y1="334.7" x2="1031" y2="283" stroke="#1a1a1a" stroke-width="0.9" fill="none"/>
<line x1="1050.8" y1="334.7" x2="1064" y2="283" stroke="#1a1a1a" stroke-width="0.9" fill="none"/>
<line x1="1071.5" y1="334.7" x2="1072" y2="290" stroke="#1a1a1a" stroke-width="0.9" fill="none"/>
<line x1="1092.8" y1="334.7" x2="1098" y2="288" stroke="#1a1a1a" stroke-width="0.9" fill="none"/>
<line x1="1124.0" y1="334.7" x2="1117" y2="313" stroke="#1a1a1a" stroke-width="0.9" fill="none"/>
<line x1="1145.2" y1="334.7" x2="1140" y2="296" stroke="#1a1a1a" stroke-width="0.9" fill="none"/>
<circle cx="966.4" cy="345" r="10.3" fill="#fff" stroke="#1a1a1a" stroke-width="1"/>
<text x="966.4" y="349.2" fill="#222" font-size="12" text-anchor="middle" transform="translate(966.4,0) scale(0.92,1) translate(-966.4,0)">7</text>
<circle cx="988.1" cy="345" r="10.3" fill="#fff" stroke="#1a1a1a" stroke-width="1"/>
<text x="988.1" y="349.2" fill="#222" font-size="12" text-anchor="middle" transform="translate(988.1,0) scale(0.92,1) translate(-988.1,0)">1</text>
<circle cx="1008.9" cy="345" r="10.3" fill="#fff" stroke="#1a1a1a" stroke-width="1"/>
<text x="1008.9" y="349.2" fill="#222" font-size="12" text-anchor="middle" transform="translate(1008.9,0) scale(0.92,1) translate(-1008.9,0)">6</text>
<circle cx="1030" cy="345" r="10.3" fill="#fff" stroke="#1a1a1a" stroke-width="1"/>
<text x="1030" y="349.2" fill="#222" font-size="12" text-anchor="middle" transform="translate(1030,0) scale(0.92,1) translate(-1030,0)">4</text>
<circle cx="1050.8" cy="345" r="10.3" fill="#fff" stroke="#1a1a1a" stroke-width="1"/>
<text x="1050.8" y="349.2" fill="#222" font-size="12" text-anchor="middle" transform="translate(1050.8,0) scale(0.92,1) translate(-1050.8,0)">5</text>
<circle cx="1071.5" cy="345" r="10.3" fill="#fff" stroke="#1a1a1a" stroke-width="1"/>
<text x="1071.5" y="349.2" fill="#222" font-size="12" text-anchor="middle" transform="translate(1071.5,0) scale(0.92,1) translate(-1071.5,0)">13</text>
<circle cx="1092.8" cy="345" r="10.3" fill="#fff" stroke="#1a1a1a" stroke-width="1"/>
<text x="1092.8" y="349.2" fill="#222" font-size="12" text-anchor="middle" transform="translate(1092.8,0) scale(0.92,1) translate(-1092.8,0)">8</text>
<circle cx="1124" cy="345" r="10.3" fill="#fff" stroke="#1a1a1a" stroke-width="1"/>
<text x="1124" y="349.2" fill="#222" font-size="12" text-anchor="middle" transform="translate(1124,0) scale(0.92,1) translate(-1124,0)">10</text>
<circle cx="1145.2" cy="345" r="10.3" fill="#fff" stroke="#1a1a1a" stroke-width="1"/>
<text x="1145.2" y="349.2" fill="#222" font-size="12" text-anchor="middle" transform="translate(1145.2,0) scale(0.92,1) translate(-1145.2,0)">9</text>
<line x1="1150.1000000000001" y1="153.3" x2="1125" y2="145" stroke="#1a1a1a" stroke-width="0.9" fill="none"/>
<circle cx="1160.4" cy="153.3" r="10.3" fill="#fff" stroke="#1a1a1a" stroke-width="1"/>
<text x="1160.4" y="157.5" fill="#222" font-size="12" text-anchor="middle" transform="translate(1160.4,0) scale(0.92,1) translate(-1160.4,0)">11</text>
<line x1="1150.1000000000001" y1="172.5" x2="1037.5" y2="162.7" stroke="#1a1a1a" stroke-width="0.9" fill="none"/>
<circle cx="1160.4" cy="172.5" r="10.3" fill="#fff" stroke="#1a1a1a" stroke-width="1"/>
<text x="1160.4" y="176.7" fill="#222" font-size="12" text-anchor="middle" transform="translate(1160.4,0) scale(0.92,1) translate(-1160.4,0)">3</text>
<line x1="1150.1000000000001" y1="191.3" x2="1048" y2="183.5" stroke="#1a1a1a" stroke-width="0.9" fill="none"/>
<circle cx="1160.4" cy="191.3" r="10.3" fill="#fff" stroke="#1a1a1a" stroke-width="1"/>
<text x="1160.4" y="195.5" fill="#222" font-size="12" text-anchor="middle" transform="translate(1160.4,0) scale(0.92,1) translate(-1160.4,0)">2</text>
</svg>
</body></html>
